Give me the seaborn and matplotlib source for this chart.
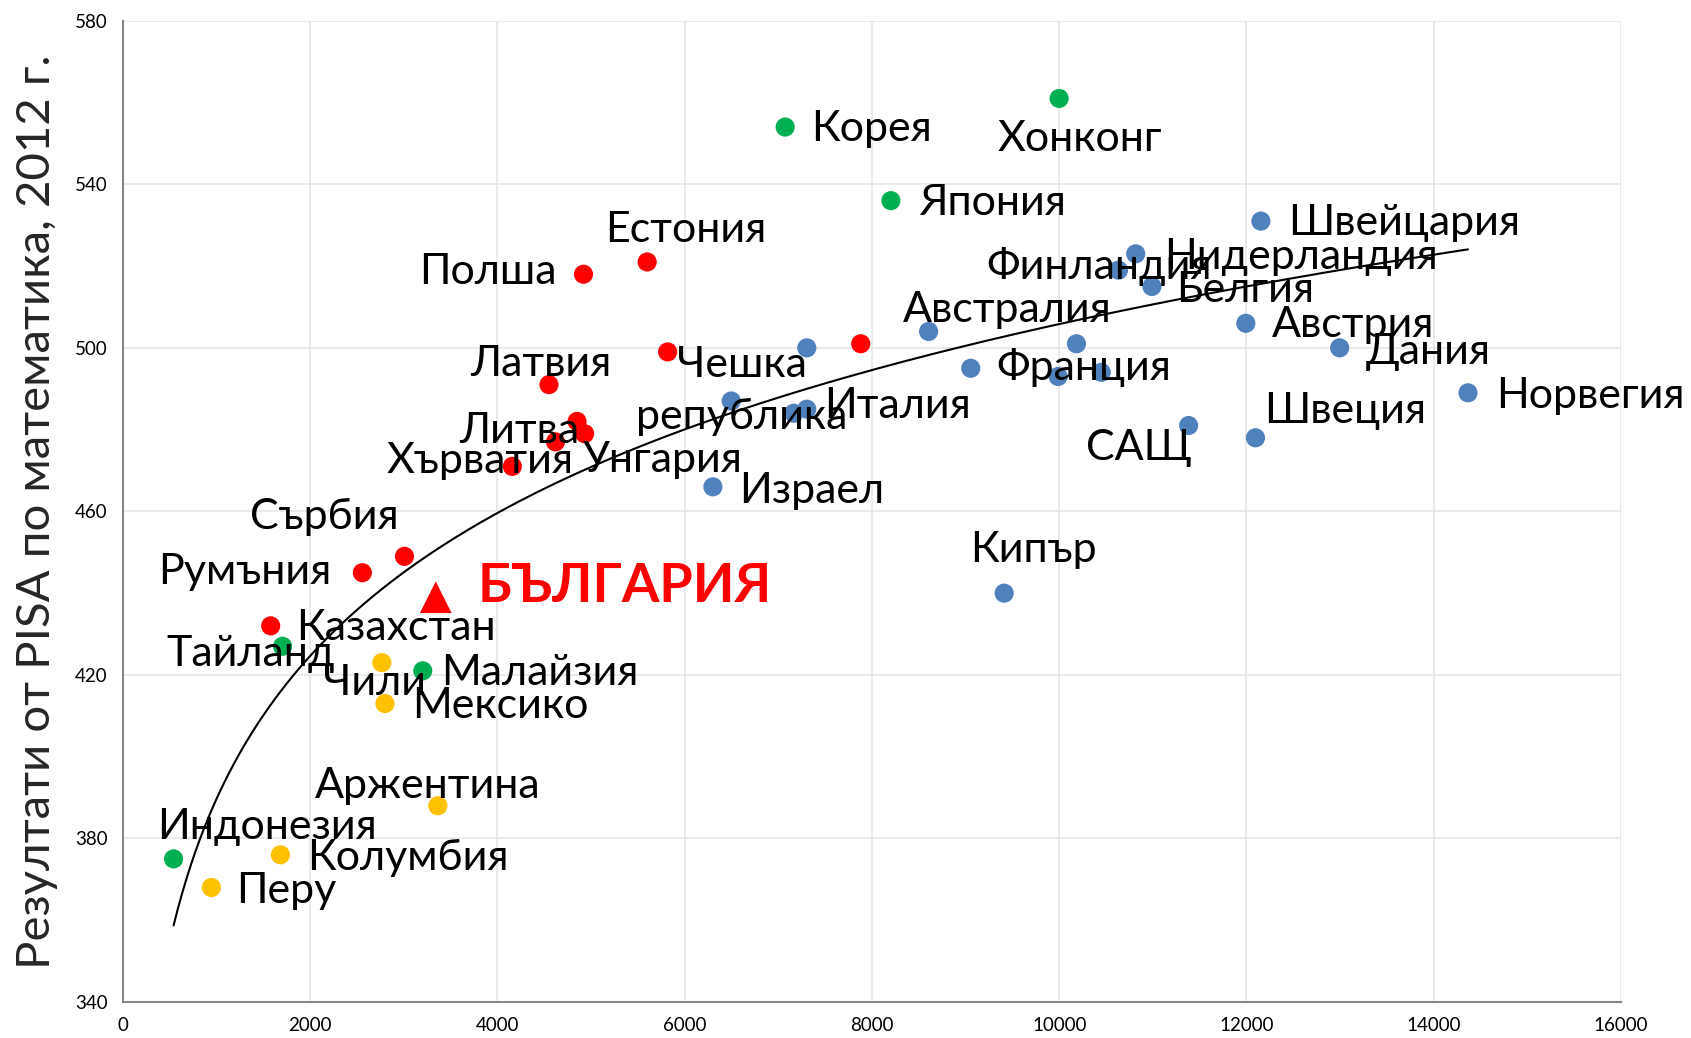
import numpy as np
import pandas as pd
import matplotlib
matplotlib.use("Agg")
import matplotlib.pyplot as plt
import seaborn as sns

# GDP per capita (x) vs PISA 2012 maths score (y)
countries = [
    "Корея", "Хонконг", "Япония", "Тайланд", "Малайзия", "Индонезия",
    "Естония", "Полша", "Чешка\nрепублика", "", "Латвия", "Литва", "", "",
    "Хърватия", "Сърбия", "Румъния", "Казахстан",
    "Чили", "Мексико", "Аржентина", "Колумбия", "Перу",
    "", "", "", "Италия", "Израел", "Австралия", "Франция", "", "", "",
    "Финландия", "Нидерландия", "Белгия", "Швейцария", "Австрия", "Дания",
    "Норвегия", "САЩ", "Швеция", "Кипър",
]
gdp = [
    7073, 9999, 8202, 1705, 3202, 541,
    5599, 4919, 5818, 7880, 4550, 4850, 4931, 4620,
    4159, 3007, 2557, 1578,
    2765, 2799, 3364, 1682, 945,
    7304, 6497, 7165, 7304, 6301, 8605, 9055, 9988, 10184, 10449,
    10633, 10817, 10990, 12154, 11993, 12995,
    14366, 11382, 12096, 9412,
]
pisa = [
    554, 561, 536, 427, 421, 375,
    521, 518, 499, 501, 491, 482, 479, 477,
    471, 449, 445, 432,
    423, 413, 388, 376, 368,
    500, 487, 484, 485, 466, 504, 495, 493, 501, 494,
    519, 523, 515, 531, 506, 500,
    489, 481, 478, 440,
]
group = (["Азия"] * 6 + ["Източна Европа"] * 12 + ["Латинска Америка"] * 5
         + ["Западна Европа"] * 20)

bg_name = "БЪЛГАРИЯ"
bg_gdp = 3341
bg_pisa = 439

# label offsets in points (text centre relative to marker)
label_offsets = {
    "Корея": (62, -1.5), "Хонконг": (15, -29.5), "Япония": (73, -1.5),
    "Тайланд": (-23, -5.4), "Малайзия": (84.6, -1.5), "Индонезия": (67.5, 23.3),
    "Естония": (28, 23), "Полша": (-69, 1.5), "Чешка\nрепублика": (53.6, -28),
    "Латвия": (-6, 15), "Литва": (-42, -7), "Хърватия": (-23, 4),
    "Сърбия": (-57.5, 28.7), "Румъния": (-84.6, 0.8), "Казахстан": (90, -1.5),
    "Чили": (-5.4, -14.8), "Мексико": (83, -1.5), "Аржентина": (-7, 14),
    "Колумбия": (91.6, -2.3), "Перу": (54, -2.3), "Италия": (65, 2.3),
    "Израел": (71.4, -3.1), "Австралия": (56.7, 15.5), "Франция": (81.5, 0.8),
    "Финландия": (-14, 2.3), "Нидерландия": (118.8, -2.3), "Белгия": (66.8, -2.3),
    "Швейцария": (103, -1.5), "Австрия": (77, -1.5), "Дания": (64, -3.1),
    "Норвегия": (88, -2.3), "САЩ": (-35.7, -16.3), "Швеция": (64.4, 19.4),
    "Кипър": (21, 31),
}
# Унгария label belongs to the point at 4931 / 479
extra_labels = [("Унгария", 4931, 479, (56, -18.6))]

palette = {
    "Азия": "#00b050",
    "Източна Европа": "#ff0000",
    "Латинска Америка": "#ffc000",
    "Западна Европа": "#4f81bd",
}

df = pd.DataFrame({"country": countries, "gdp": gdp, "pisa": pisa, "group": group})

sns.set_theme(style="white")
plt.rcParams["font.family"] = ["Lato", "DejaVu Sans"]

fig, ax = plt.subplots(figsize=(16.91, 10.38), dpi=100)
fig.subplots_adjust(left=0.0727, right=0.9586, top=0.980, bottom=0.0347)

# logarithmic trend line fitted on all points (incl. Bulgaria)
all_x = np.array(gdp + [bg_gdp], dtype=float)
all_y = np.array(pisa + [bg_pisa], dtype=float)
b, a = np.polyfit(np.log(all_x), all_y, 1)
xs = np.linspace(all_x.min(), all_x.max(), 300)
ax.plot(xs, a + b * np.log(xs), color="black", lw=1.5, zorder=2)

sns.scatterplot(data=df, x="gdp", y="pisa", hue="group", palette=palette,
                s=190, edgecolor="none", legend=False, ax=ax, zorder=3)
ax.scatter([bg_gdp], [bg_pisa], marker="^", s=520, color="#ff0000",
           edgecolor="none", zorder=3)

label_size = 31
for _, row in df.iterrows():
    if row["country"] and row["country"] in label_offsets:
        ax.annotate(row["country"], (row["gdp"], row["pisa"]),
                    xytext=label_offsets[row["country"]], textcoords="offset points",
                    ha="center", va="center", fontsize=label_size, color="black",
                    linespacing=1.45, zorder=4)
for name, x, y, off in extra_labels:
    ax.annotate(name, (x, y), xytext=off, textcoords="offset points",
                ha="center", va="center", fontsize=label_size, color="black", zorder=4)

ax.annotate(bg_name, (bg_gdp, bg_pisa), xytext=(136, 7.8), textcoords="offset points",
            ha="center", va="center", fontsize=39, fontweight="bold",
            color="#ff0000", zorder=4)

ax.set_xlim(0, 16000)
ax.set_ylim(340, 580)
ax.set_xticks(np.arange(0, 16001, 2000))
ax.set_yticks(np.arange(340, 581, 40))
ax.grid(True, color="#e6e6e6", lw=1.2)
ax.set_axisbelow(True)
for side in ["top", "right"]:
    ax.spines[side].set_visible(False)
for side in ["left", "bottom"]:
    ax.spines[side].set_color("#868686")
    ax.spines[side].set_linewidth(1.5)
ax.tick_params(axis="both", which="major", direction="out", length=5, width=1.2,
               color="#868686", labelsize=13.5, labelcolor="black", pad=6)

ax.set_xlabel("")
ax.set_ylabel("Резултати от PISA по математика, 2012 г.", fontsize=34,
              labelpad=12)

fig.savefig("out.png", dpi=100)
